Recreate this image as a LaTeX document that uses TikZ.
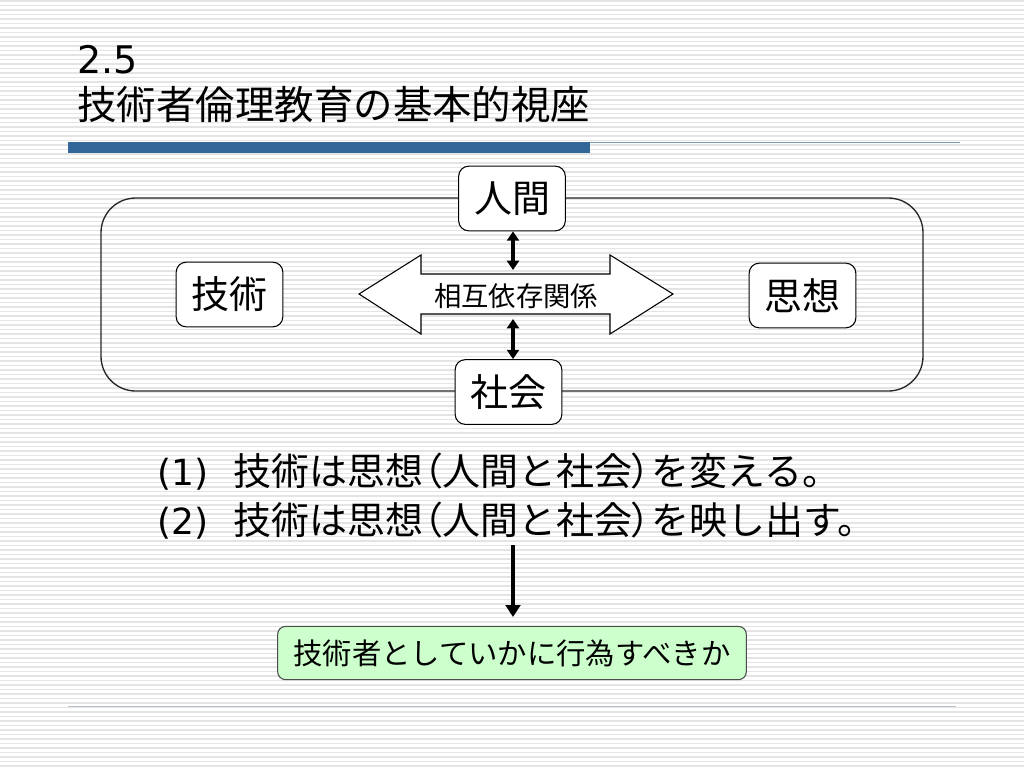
\documentclass[tikz,border=0pt]{standalone}
\usepackage{fontspec}
\setmainfont{Noto Sans CJK JP}
\newfontfamily\latinfont{DejaVu Sans}
\newfontfamily\pfont[RawFeature=+palt]{Noto Sans CJK JP}
\usetikzlibrary{arrows.meta}
\definecolor{stripe}{HTML}{E4E4E4}
\definecolor{barblue}{HTML}{336699}
\definecolor{rulegray}{HTML}{8099B3}
\definecolor{footgray}{HTML}{B8C2CC}
\definecolor{boxgreen}{HTML}{CCFFCC}
\tikzset{
  labelbox/.style={draw=black, line width=0.8pt, fill=white, rounded corners=7.5pt,
    inner sep=0pt, minimum width=80pt, minimum height=48.5pt, font=\fontsize{28.5}{34}\selectfont},
  dblarrow/.style={{Triangle[length=7pt,width=9pt]}-{Triangle[length=7pt,width=9pt]}, line width=2.6pt},
  downarrow/.style={-{Triangle[length=9pt,width=11pt]}, line width=2.6pt},
  stmt/.style={anchor=base west, inner sep=0pt, font=\fontsize{28.5}{34}\selectfont},
}
\begin{document}
\begin{tikzpicture}[x=0.75pt,y=-0.75pt]
\useasboundingbox (0,0) rectangle (1024,768);
\fill[white] (0,0) rectangle (1024,768);
\foreach \i in {0,...,170}{
  \draw[stripe, line width=1.1pt] (0,\i*4.5+1) -- (1024,\i*4.5+1);
}
% title
\node[anchor=base west, inner sep=0pt, font=\latinfont\fontsize{28.5}{34}\selectfont] (t1) at (77,73) {2.5};
\node[anchor=base west, inner sep=0pt, font=\fontsize{29.6}{34}\selectfont] (t2) at (77,119) {技術者倫理教育の基本的視座};
\fill[barblue] (68,142) rectangle (590,153);
\draw[rulegray, line width=1.1pt] (590,142.5) -- (960,142.5);
% big frame
\draw[black!85, line width=1pt, rounded corners=26pt] (101,198) rectangle (923,391);
% hollow double arrow
\coordinate (lt) at (359,294);
\coordinate (rt) at (673,294);
\draw[black, line width=0.8pt, fill=white]
  (lt) -- (421,255) -- (421,274) -- (610,274) -- (610,255) -- (rt)
  -- (610,334) -- (610,314) -- (421,314) -- (421,334) -- cycle;
\node[inner sep=0pt, font=\fontsize{20.5}{24}\selectfont] (rel) at (516,296) {相互依存関係};
\coordinate (rtop) at (513,270);
\coordinate (rbot) at (513,319);
% boxes
\node[labelbox] (ren) at (512,198.5) {人間};
\node[labelbox] (sha) at (508.5,392) {社会};
\node[labelbox] (gij) at (229.5,294.5) {技術};
\node[labelbox] (shi) at (802.5,295.5) {思想};
\draw[dblarrow] (rtop |- ren.south) -- (rtop);
\draw[dblarrow] (rbot) -- (rbot |- sha.north);
% statements
\node[stmt, font=\latinfont\fontsize{27}{34}\selectfont] (n1) at (157,485) {(1)};
\node[stmt] (s1) at (233,485) {技術は思想{\pfont （}人間と社会{\pfont ）}を変える。};
\node[stmt, font=\latinfont\fontsize{27}{34}\selectfont] (n2) at (157,534) {(2)};
\node[stmt] (s2) at (233,534) {技術は思想{\pfont （}人間と社会{\pfont ）}を映し出す。};
% result
\node[draw=black!70, line width=0.8pt, fill=boxgreen, rounded corners=6pt, inner sep=0pt,
  minimum width=351.5pt, minimum height=40pt, font=\fontsize{22}{26}\selectfont] (res) at (512,653) {技術者としていかに行為すべきか};
\coordinate (dstart) at (513,545);
\coordinate (dend) at (513,617);
\draw[downarrow] (dstart) -- (dend);
% footer line
\draw[footgray, line width=1.1pt] (68,706.5) -- (956,706.5);
\end{tikzpicture}
\end{document}
